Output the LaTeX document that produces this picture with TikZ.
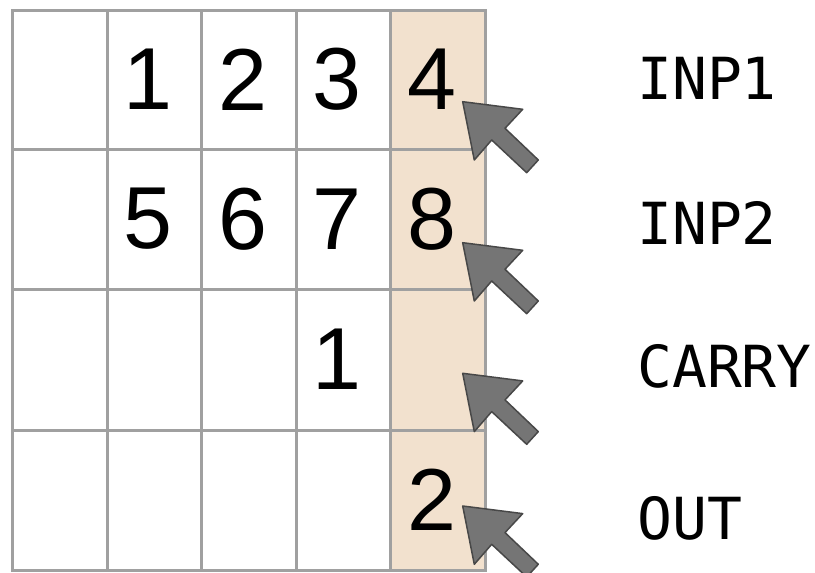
\documentclass[tikz,border=0pt]{standalone}
\usepackage{fontspec}
\setmainfont{Liberation Sans}
\newfontfamily\regfont{DejaVu Sans Mono}
\definecolor{gridgray}{RGB}{160,160,160}
\definecolor{colfill}{RGB}{242,225,206}
\definecolor{arrowgray}{RGB}{117,117,117}
\definecolor{arrowedge}{RGB}{72,72,72}

\begin{document}
\begin{tikzpicture}[x=1pt, y=-1pt,
  digit/.style={inner sep=0, font=\fontsize{88}{88}\selectfont},
  regname/.style={anchor=west, inner sep=0, font=\regfont\fontsize{58}{58}\selectfont},
  blockarrow/.style={fill=arrowgray, draw=arrowedge, line width=1.5pt, line join=round}]
  \useasboundingbox (0,0) rectangle (815,573);
  % columna resaltada
  \fill[colfill] (390,10) rectangle (485,570);
  % rejilla
  \foreach \x in {12,107,201,296,390,485}
    \draw[gridgray, line width=3pt, line cap=rect] (\x,10) -- (\x,570);
  \foreach \y in {10,149,289,430,570}
    \draw[gridgray, line width=3pt, line cap=rect] (12,\y) -- (485,\y);
  % cifras
  \foreach \t [count=\i] in {1,2,3,4}
    \node[digit] (a\i) at ({148+94.5*(\i-1)},79.5) {\t};
  \foreach \t [count=\i] in {5,6,7,8}
    \node[digit] (b\i) at ({148+94.5*(\i-1)},219) {\t};
  \node[digit] (c3) at (336.5,359.5) {1};
  \node[digit] (d4) at (431.5,500) {2};
  % registros
  \node[regname] (inp1) at (637,78.5) {INP1};
  \node[regname] (inp2) at (637,222.5) {INP2};
  \node[regname] (carry) at (637,366) {CARRY};
  \node[regname] (out) at (637,518) {OUT};
  % flechas
  \foreach \n/\y in {inp1/101.7, inp2/242.7, carry/373.3, out/506} {
    \coordinate (tip\n) at (462.7,\y);
    \draw[blockarrow, shift={(tip\n)}] (0,0) -- (60,7.6) -- (42.3,26.6) -- (75.6,58.3)
      -- (64,71) -- (29,38.3) -- (11.6,58.3) -- cycle;
  }
\end{tikzpicture}
\end{document}
